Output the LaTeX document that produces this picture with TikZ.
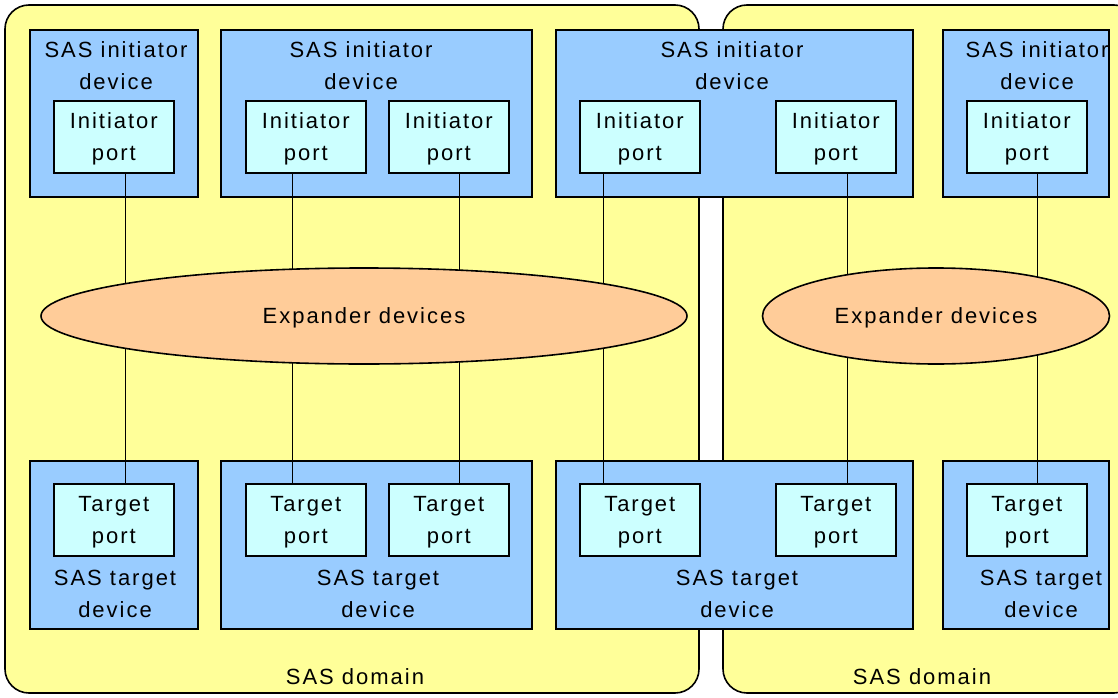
\documentclass[tikz,border=0pt]{standalone}
\usepackage{fontspec}
\setmainfont{Liberation Sans}[LetterSpace=9]
\usetikzlibrary{shapes.geometric}
\definecolor{domainfill}{RGB}{255,255,153}
\definecolor{devfill}{RGB}{153,204,255}
\definecolor{portfill}{RGB}{204,255,255}
\definecolor{expfill}{RGB}{255,204,153}
\begin{document}
\begin{tikzpicture}[x=1pt,y=-1pt,
  every node/.style={font=\fontsize{22}{32}\selectfont, inner sep=0pt},
  sasdomain/.style={draw=black, fill=domainfill, line width=1.6pt, rounded corners=24pt},
  devbox/.style={draw=black, fill=devfill, line width=1.6pt, anchor=north west},
  portbox/.style={draw=black, fill=portfill, line width=1.6pt, anchor=north west,
                  minimum width=120pt, minimum height=72pt},
  porttext/.style={align=center},
  expander/.style={ellipse, draw=black, fill=expfill, line width=1.6pt, inner sep=0pt},
  devtitle/.style={align=center},
  link/.style={draw=black, line width=1.3pt}]

\useasboundingbox (0,0) rectangle (1118,698);
\clip (0,0) rectangle (1118,698);

% two SAS domains
\path[sasdomain] (5,5) rectangle (699,693);
\path[sasdomain] (723,5) rectangle (1138,693);
\node (dom1) at (355,677) {SAS domain};
\node (dom2) at (922,677) {SAS domain};

% SAS initiator devices
\node[devbox, minimum width=168pt, minimum height=167pt] (id1) at (29,29) {};
\node[devbox, minimum width=311pt, minimum height=167pt] (id2) at (220,29) {};
\node[devbox, minimum width=357pt, minimum height=167pt] (id3) at (555,29) {};
\node[devbox, minimum width=166pt, minimum height=167pt] (id4) at (942,29) {};
\node[devtitle] (idt1) at (116,66) {SAS initiator\\device};
\node[devtitle] (idt2) at (361,66) {SAS initiator\\device};
\node[devtitle] (idt3) at (732,66) {SAS initiator\\device};
\node[devtitle] (idt4) at (1037,66) {SAS initiator\\device};

% initiator ports
\node[portbox] (ip1)  at (53,100)  {};
\node[portbox] (ip2a) at (245,100) {};
\node[portbox] (ip2b) at (388,100) {};
\node[portbox] (ip3a) at (579,100) {};
\node[portbox] (ip3b) at (775,100) {};
\node[portbox] (ip4)  at (966,100) {};
\foreach \p in {ip1,ip2a,ip2b,ip3a,ip3b,ip4}
  \node[porttext] (\p-text) at ([yshift=-2pt]\p.center) {Initiator\\port};

% SAS target devices
\node[devbox, minimum width=168pt, minimum height=168pt] (td1) at (29,460) {};
\node[devbox, minimum width=311pt, minimum height=168pt] (td2) at (220,460) {};
\node[devbox, minimum width=357pt, minimum height=168pt] (td3) at (555,460) {};
\node[devbox, minimum width=166pt, minimum height=168pt] (td4) at (942,460) {};
\node[devtitle] (tdt1) at (115,594) {SAS target\\device};
\node[devtitle] (tdt2) at (378,594) {SAS target\\device};
\node[devtitle] (tdt3) at (737,594) {SAS target\\device};
\node[devtitle] (tdt4) at (1041,594) {SAS target\\device};

% target ports
\node[portbox] (tp1)  at (53,483)  {};
\node[portbox] (tp2a) at (245,483) {};
\node[portbox] (tp2b) at (388,483) {};
\node[portbox] (tp3a) at (579,483) {};
\node[portbox] (tp3b) at (775,483) {};
\node[portbox] (tp4)  at (966,483) {};
\foreach \p in {tp1,tp2a,tp2b,tp3a,tp3b,tp4}
  \node[porttext] (\p-text) at ([yshift=-2pt]\p.center) {Target\\port};

% links from initiator ports through the expanders to target ports
\draw[link] ([xshift=12pt]ip1.south)   -- ([xshift=12pt]tp1.north);
\draw[link] ([xshift=-13pt]ip2a.south) -- ([xshift=-13pt]tp2a.north);
\draw[link] ([xshift=11pt]ip2b.south)  -- ([xshift=11pt]tp2b.north);
\draw[link] ([xshift=-36pt]ip3a.south) -- ([xshift=-36pt]tp3a.north);
\draw[link] ([xshift=12pt]ip3b.south)  -- ([xshift=12pt]tp3b.north);
\draw[link] ([xshift=11pt]ip4.south)   -- ([xshift=11pt]tp4.north);

% expander devices
\node[expander, minimum width=646pt, minimum height=96pt] (exp1) at (364,316) {};
\node[expander, minimum width=347pt, minimum height=96pt] (exp2) at (936,316) {};
\node (exp1-text) at (364,318) {Expander devices};
\node (exp2-text) at (936,318) {Expander devices};
\end{tikzpicture}
\end{document}
